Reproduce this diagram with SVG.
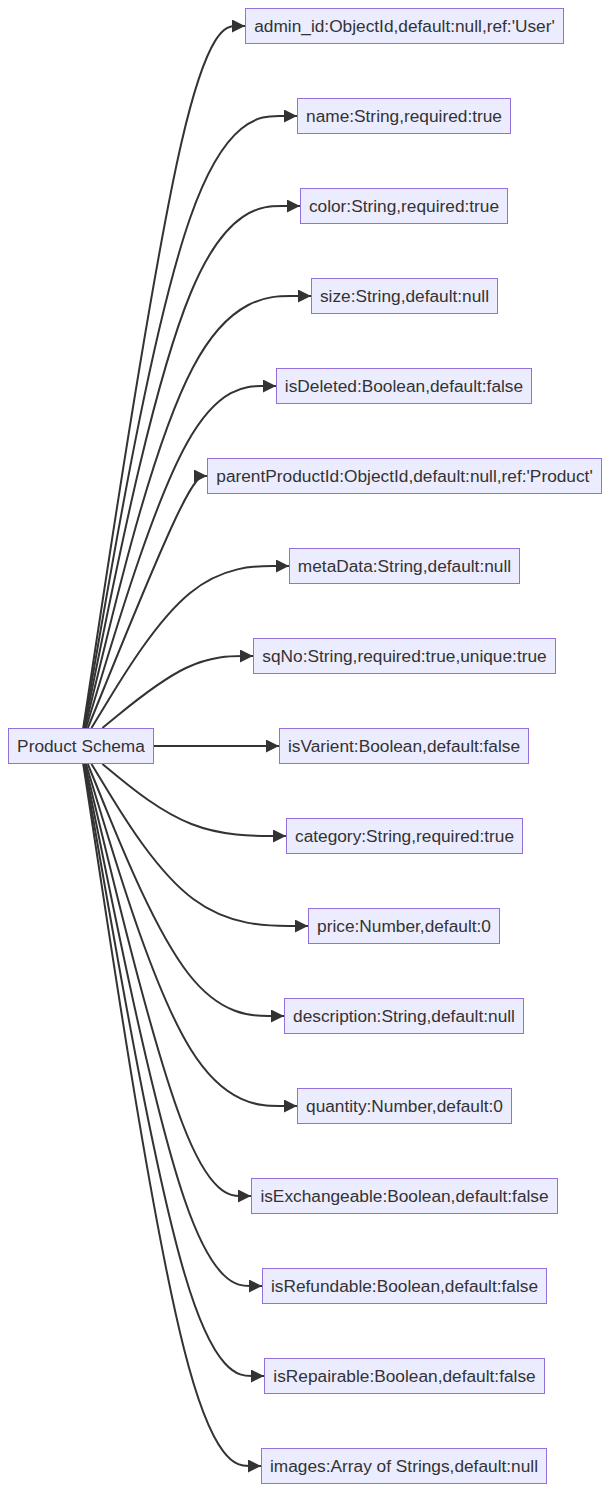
<svg xmlns="http://www.w3.org/2000/svg" width="610" height="1500" viewBox="0 0 610 1500">
<style>
.node rect{fill:#ECECFF;stroke:#9370DB;stroke-width:1}
.node text{font-family:"Liberation Sans",Arial,sans-serif;font-size:17.3px;fill:#333333;text-anchor:middle}
.edges path{fill:none;stroke:#333333;stroke-width:2;marker-end:url(#arrow)}
</style>
<defs>
<marker id="arrow" viewBox="0 0 10 10" refX="10" refY="5" markerUnits="userSpaceOnUse" markerWidth="13" markerHeight="13" orient="auto">
<path d="M0,0 L10,5 L0,10 z" fill="#333333"/>
</marker>
</defs>
<rect width="610" height="1500" fill="#ffffff"/>
<g class="edges">
<path d="M83.24,728 L101.03,611 C118.83,494 154.41,260 181.37,143 C208.33,26 226.67,26 235.83,26 L245,26"/>
<path d="M83.63,728 L101.36,626 C119.09,524 154.54,320 190.11,218 C225.67,116 261.33,116 279.17,116 L297,116"/>
<path d="M84.15,728 L101.79,641 C119.43,554 154.72,380 190.69,293 C226.67,206 263.33,206 281.67,206 L300,206"/>
<path d="M84.88,728 L102.4,656 C119.92,584 154.96,440 192.65,368 C230.33,296 270.67,296 290.83,296 L311,296"/>
<path d="M85.98,728 L103.32,671 C120.65,614 155.33,500 187,443 C218.67,386 247.33,386 261.67,386 L276,386"/>
<path d="M87.8,728 L104.83,686 C121.87,644 155.93,560 175.8,518 C195.67,476 201.33,476 204.17,476 L207,476"/>
<path d="M91.45,728 L107.88,701 C124.3,674 157.15,620 190.08,593 C223,566 256,566 272.5,566 L289,566"/>
<path d="M102.4,728 L117,716 C131.6,704 160.8,680 185.9,668 C211,656 232,656 242.5,656 L253,656"/>
<path d="M153,746 L190,746 L279,746"/>
<path d="M102.4,764 L117,776 C131.6,788 160.8,812 191.4,824 C222,836 254,836 270,836 L286,836"/>
<path d="M91.45,764 L107.88,791 C124.3,818 157.15,872 193.24,899 C229.33,926 268.67,926 288.33,926 L308,926"/>
<path d="M87.8,764 L104.83,806 C121.87,848 155.93,932 188.63,974 C221.33,1016 252.67,1016 268.33,1016 L284,1016"/>
<path d="M85.98,764 L103.32,821 C120.65,878 155.33,992 190.5,1049 C225.67,1106 261.33,1106 279.17,1106 L297,1106"/>
<path d="M84.88,764 L102.4,836 C119.92,908 154.96,1052 182.65,1124 C210.33,1196 230.67,1196 240.83,1196 L251,1196"/>
<path d="M84.15,764 L101.79,851 C119.43,938 154.72,1112 184.36,1199 C214,1286 238,1286 250,1286 L262,1286"/>
<path d="M83.63,764 L101.36,866 C119.09,968 154.54,1172 184.61,1274 C214.67,1376 239.33,1376 251.67,1376 L264,1376"/>
<path d="M83.24,764 L101.03,881 C118.83,998 154.41,1232 184.04,1349 C213.67,1466 237.33,1466 249.17,1466 L261,1466"/>
</g>
<g id="ProductSchema" class="node"><rect x="8.5" y="728.5" width="145" height="35"/><text x="81" y="752">Product Schema</text></g>
<g id="admin_id" class="node"><rect x="245.5" y="8.5" width="318" height="35"/><text x="404.5" y="32">admin_id:ObjectId,default:null,ref:'User'</text></g>
<g id="name" class="node"><rect x="297.5" y="98.5" width="213" height="35"/><text x="404" y="122">name:String,required:true</text></g>
<g id="color" class="node"><rect x="300.5" y="188.5" width="207" height="35"/><text x="404" y="212">color:String,required:true</text></g>
<g id="size" class="node"><rect x="311.5" y="278.5" width="186" height="35"/><text x="404.5" y="302">size:String,default:null</text></g>
<g id="isDeleted" class="node"><rect x="276.5" y="368.5" width="255" height="35"/><text x="404" y="392">isDeleted:Boolean,default:false</text></g>
<g id="parentProductId" class="node"><rect x="207.5" y="458.5" width="394" height="35"/><text x="404.5" y="482">parentProductId:ObjectId,default:null,ref:'Product'</text></g>
<g id="metaData" class="node"><rect x="289.5" y="548.5" width="230" height="35"/><text x="404.5" y="572">metaData:String,default:null</text></g>
<g id="sqNo" class="node"><rect x="253.5" y="638.5" width="302" height="35"/><text x="404.5" y="662">sqNo:String,required:true,unique:true</text></g>
<g id="isVarient" class="node"><rect x="279.5" y="728.5" width="249" height="35"/><text x="404" y="752">isVarient:Boolean,default:false</text></g>
<g id="category" class="node"><rect x="286.5" y="818.5" width="236" height="35"/><text x="404.5" y="842">category:String,required:true</text></g>
<g id="price" class="node"><rect x="308.5" y="908.5" width="191" height="35"/><text x="404" y="932">price:Number,default:0</text></g>
<g id="description" class="node"><rect x="284.5" y="998.5" width="239" height="35"/><text x="404" y="1022">description:String,default:null</text></g>
<g id="quantity" class="node"><rect x="297.5" y="1088.5" width="214" height="35"/><text x="404.5" y="1112">quantity:Number,default:0</text></g>
<g id="isExchangeable" class="node"><rect x="251.5" y="1178.5" width="306" height="35"/><text x="404.5" y="1202">isExchangeable:Boolean,default:false</text></g>
<g id="isRefundable" class="node"><rect x="262.5" y="1268.5" width="284" height="35"/><text x="404.5" y="1292">isRefundable:Boolean,default:false</text></g>
<g id="isRepairable" class="node"><rect x="264.5" y="1358.5" width="280" height="35"/><text x="404.5" y="1382">isRepairable:Boolean,default:false</text></g>
<g id="images" class="node"><rect x="261.5" y="1448.5" width="285" height="35"/><text x="404" y="1472">images:Array of Strings,default:null</text></g>
</svg>
